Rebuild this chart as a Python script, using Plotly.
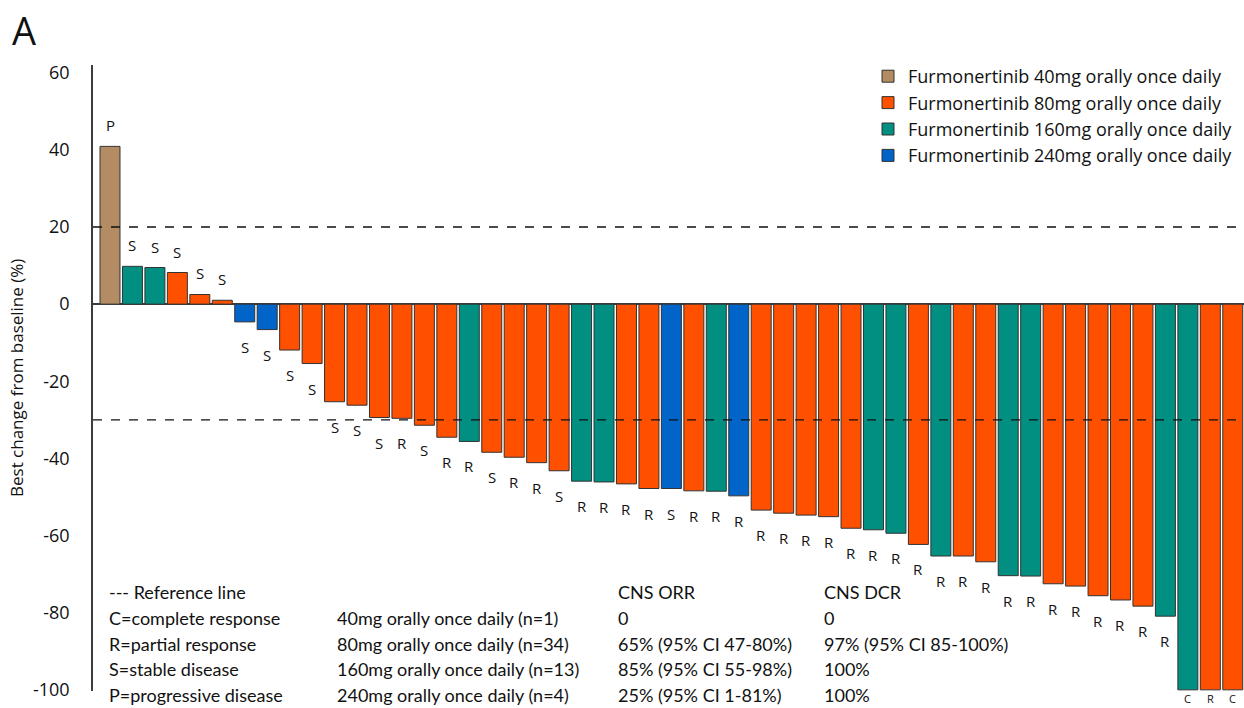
import plotly.graph_objects as go

# Best change from baseline (%) per patient, sorted as plotted
best_change = [
    40.9, 9.8, 9.5, 8.2, 2.5, 1.0, -4.6, -6.6, -11.9, -15.4,
    -25.3, -26.2, -29.4, -29.6, -31.4, -34.5, -35.6, -38.4, -39.7, -41.1,
    -43.2, -45.9, -46.1, -46.6, -47.8, -47.8, -48.4, -48.5, -49.7, -53.4,
    -54.2, -54.7, -55.1, -58.1, -58.5, -59.4, -62.3, -65.3, -65.3, -66.8,
    -70.4, -70.5, -72.5, -73.1, -75.6, -76.7, -78.3, -80.9, -100, -100, -100,
]
# Dose group (mg) of each patient
dose_mg = [
    40, 160, 160, 80, 80, 80, 240, 240, 80, 80,
    80, 80, 80, 80, 80, 80, 160, 80, 80, 80,
    80, 160, 160, 80, 80, 240, 80, 160, 240, 80,
    80, 80, 80, 80, 160, 160, 80, 160, 80, 80,
    160, 160, 80, 80, 80, 80, 80, 160, 160, 80, 80,
]
# Best CNS response of each patient
response = [
    "P", "S", "S", "S", "S", "S", "S", "S", "S", "S",
    "S", "S", "S", "R", "S", "R", "R", "S", "R", "R",
    "S", "R", "R", "R", "R", "S", "R", "R", "R", "R",
    "R", "R", "R", "R", "R", "R", "R", "R", "R", "R",
    "R", "R", "R", "R", "R", "R", "R", "R", "C", "R", "C",
]

doses = [40, 80, 160, 240]
dose_names = [f"Furmonertinib {d}mg orally once daily" for d in doses]
dose_colors = ["#B38C63", "#FF5000", "#008F80", "#0064C8"]

y_ticks = [60, 40, 20, 0, -20, -40, -60, -80, -100]
y_tick_labels = ["60", "40", "20", "0", "-20", "-40", "-60", "-80", "-100"]

reference_lines = [20, -30]

key_lines = [
    "--- Reference line",
    "C=complete response",
    "R=partial response",
    "S=stable disease",
    "P=progressive disease",
]
group_lines = [
    "",
    "40mg orally once daily (n=1)",
    "80mg orally once daily (n=34)",
    "160mg orally once daily (n=13)",
    "240mg orally once daily (n=4)",
]
orr_lines = ["CNS ORR", "0", "65% (95% CI 47-80%)", "85% (95% CI 55-98%)", "25% (95% CI 1-81%)"]
dcr_lines = ["CNS DCR", "0", "97% (95% CI 85-100%)", "100%", "100%"]

W, H = 1244, 708
L, R, T, B = 93, 0, 65, 17


def px_x(px):
    return (px - L) / (W - L - R)


def px_y(py):
    return (H - B - py) / (H - T - B)


fig = go.Figure()
positions = list(range(len(best_change)))
for dose, name, color in zip(doses, dose_names, dose_colors):
    idx = [i for i in positions if dose_mg[i] == dose]
    fig.add_trace(go.Bar(
        x=idx,
        y=[best_change[i] for i in idx],
        name=name,
        width=0.89,
        marker=dict(color=color, line=dict(color="#333333", width=1)),
    ))

annotations = []
for i, (v, r) in enumerate(zip(best_change, response)):
    if v > 0:
        ann = dict(yshift=21, yanchor="middle", size=15)
    elif v > -95:
        ann = dict(yshift=-25, yanchor="middle", size=15)
    else:
        # deepest bars reach the bottom of the axis: tuck the letter just below
        ann = dict(yshift=0, yanchor="top", size=11)
    annotations.append(dict(
        x=i, y=v, xref="x", yref="y", text=r, showarrow=False,
        yshift=ann["yshift"], yanchor=ann["yanchor"], borderpad=0,
        font=dict(family="Open Sans", size=ann["size"], color="#111111"),
    ))

table_font = dict(family="Lato", size=18, color="#111111")
row_y = [592, 618, 644, 669, 695]
for col_x, lines in zip([107, 335, 616, 822], [key_lines, group_lines, orr_lines, dcr_lines]):
    for py, txt in zip(row_y, lines):
        if txt:
            annotations.append(dict(
                x=px_x(col_x), y=px_y(py), xref="paper", yref="paper", text=txt,
                showarrow=False, xanchor="left", yanchor="middle", font=table_font,
            ))

annotations.append(dict(
    x=px_x(10), y=px_y(30), xref="paper", yref="paper", text="A", showarrow=False,
    xanchor="left", yanchor="middle", font=dict(family="Open Sans", size=38, color="#111111"),
))
annotations.append(dict(
    x=px_x(16), y=px_y(378), xref="paper", yref="paper", text="Best change from baseline (%)",
    showarrow=False, textangle=-90, xanchor="center", yanchor="middle",
    font=dict(family="Open Sans", size=17, color="#111111"),
))

shapes = [
    dict(type="line", xref="paper", yref="y", x0=0, x1=1, y0=v, y1=v,
         line=dict(color="#111111", width=1.3, dash="dash"))
    for v in reference_lines
]

fig.update_layout(
    width=W, height=H,
    margin=dict(l=L, r=R, t=T, b=B),
    paper_bgcolor="white", plot_bgcolor="white",
    barmode="overlay",
    showlegend=True,
    legend=dict(
        x=px_x(868), y=px_y(58), xanchor="left", yanchor="top",
        font=dict(family="Open Sans", size=18, color="#111111"),
        bgcolor="rgba(0,0,0,0)", traceorder="normal", tracegroupgap=0,
    ),
    xaxis=dict(range=[-0.757, 50.5], showticklabels=False, showgrid=False,
               zeroline=False, showline=False, ticks=""),
    yaxis=dict(range=[-100.3, 62], tickvals=y_ticks, ticktext=y_tick_labels,
               showgrid=False, zeroline=True, zerolinecolor="#3c3c3c", zerolinewidth=1.5,
               showline=True, linecolor="#3c3c3c", linewidth=1.5, ticks="",
               ticklabelstandoff=18,
               tickfont=dict(family="Open Sans", size=18, color="#111111")),
    annotations=annotations,
    shapes=shapes,
)

fig.write_html("out.html")
